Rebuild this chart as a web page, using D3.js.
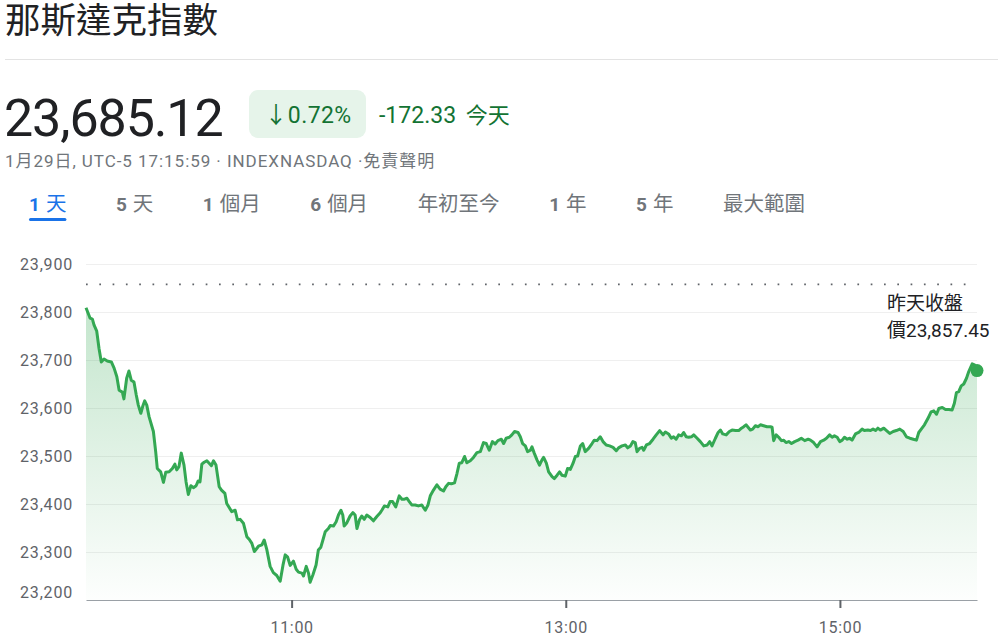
<!DOCTYPE html>
<html>
<head>
<meta charset="utf-8">
<script src="https://cdn.jsdelivr.net/npm/d3@7"></script>
<style>
  body { margin: 0; background: #fff; }
  svg text { font-family: Roboto, "Noto Sans CJK TC", sans-serif; }
</style>
</head>
<body>
<script>
// intraday quotes, minutes after the 09:30 open
var minutes = [0,1.8,2.8,3.5,4.7,5.7,6.7,7.9,9.3,11.1,12.3,13.5,14.5,15.9,16.6,17.8,18.8,19.8,21.0,22.0,
  22.9,24.0,24.8,25.7,26.6,27.6,29.5,30.5,31.2,32.7,33.9,34.9,36.4,37.8,38.9,39.7,40.7,41.7,42.9,43.8,
  44.8,45.9,47.0,48.2,49.1,49.9,50.7,51.7,52.9,53.9,54.9,55.8,56.9,58.3,59.3,60.8,61.6,63.8,65.3,66.3,
  67.5,68.9,70.4,71.5,72.6,73.7,75.5,77.0,78.0,79.1,80.6,82.0,83.5,85.0,86.2,87.2,88.2,89.4,90.8,92.0,
  93.0,94.5,95.2,96.4,97.4,98.1,99.3,100.7,101.7,102.8,103.7,104.7,106.1,106.9,108.3,109.5,110.5,111.6,112.4,113.0,
  114.2,115.6,116.8,117.8,118.6,119.7,120.7,121.8,122.9,124.4,125.8,127.3,128.8,129.5,130.6,132.1,133.1,134.2,135.6,137.1,
  138.3,139.4,140.5,141.5,142.6,144.1,145.5,147.0,148.5,149.7,150.7,152.1,153.6,155.0,156.5,157.5,158.7,159.9,161.3,162.4,
  163.4,164.5,165.7,166.7,168.2,169.6,171.1,172.6,174.0,175.2,176.5,177.9,179.1,180.3,181.8,182.8,183.9,185.3,186.4,187.6,
  189.1,190.1,191.1,192.3,193.3,194.5,195.2,196.2,197.4,198.5,199.6,200.3,201.5,202.5,204.0,205.0,206.2,207.3,208.3,209.8,
  210.8,212.0,213.2,214.2,215.2,216.4,217.4,218.5,220.0,221.5,222.5,223.7,225.1,226.3,227.7,229.2,230.7,232.1,233.1,234.6,
  236.1,237.1,238.3,239.4,240.4,241.2,242.3,243.4,244.1,245.3,246.7,248.2,249.6,251.1,252.6,253.6,255.0,256.2,257.2,258.3,
  259.4,260.6,261.6,262.7,263.8,265.0,266.0,267.5,268.9,270.4,271.9,273.0,274.0,275.5,276.7,277.7,278.7,280.2,281.6,282.8,
  284.3,285.7,286.9,287.9,288.9,289.8,290.8,291.8,293.0,294.2,295.2,296.6,298.1,299.6,300.3,301.0,302.1,303.2,304.4,305.4,
  306.4,307.6,308.8,310.2,311.7,313.1,314.6,316.1,317.1,318.5,320.0,321.5,322.9,324.1,325.5,326.6,327.6,328.8,329.9,331.0,
  332.0,333.2,334.3,335.3,336.8,338.2,339.7,340.7,342.2,343.4,344.5,345.6,346.6,347.7,349.2,350.4,351.8,353.3,354.7,356.2,
  357.7,359.1,360.6,362.1,363.5,364.5,365.6,367.0,368.5,369.9,371.1,372.3,373.3,374.8,376.2,377.7,379.1,380.1,381.0,382.0,
  383.1,384.2,385.4,386.4,387.9,388.9,390.0];

var prices = [23809,23787,23785,23773,23760,23724,23696,23702,23698,23696,23683,23665,23637,23633,23619,23662,23677,23658,23654,23627,
  23606,23589,23603,23615,23606,23582,23551,23509,23474,23467,23445,23466,23467,23474,23483,23471,23478,23506,23481,23446,
  23420,23438,23434,23438,23448,23446,23483,23487,23490,23485,23480,23490,23481,23436,23429,23422,23401,23384,23387,23367,
  23368,23360,23332,23326,23318,23301,23312,23315,23325,23306,23270,23257,23251,23239,23272,23294,23290,23272,23281,23264,
  23258,23256,23250,23270,23256,23237,23252,23273,23304,23310,23325,23342,23349,23355,23354,23363,23377,23387,23377,23354,
  23361,23375,23382,23377,23349,23367,23375,23368,23377,23372,23365,23374,23382,23387,23396,23394,23405,23405,23394,23417,
  23410,23410,23412,23405,23398,23398,23396,23398,23387,23398,23417,23429,23440,23431,23427,23436,23443,23442,23444,23464,
  23485,23486,23499,23486,23490,23497,23507,23509,23528,23526,23512,23530,23525,23532,23535,23526,23537,23539,23544,23551,
  23549,23540,23526,23521,23509,23512,23519,23506,23492,23481,23492,23497,23485,23467,23457,23453,23460,23467,23460,23458,
  23474,23472,23485,23499,23500,23521,23526,23509,23516,23526,23533,23532,23540,23530,23523,23521,23518,23511,23517,23521,
  23523,23517,23521,23530,23528,23509,23516,23518,23512,23523,23526,23535,23544,23553,23544,23550,23546,23537,23540,23535,
  23544,23542,23549,23540,23539,23540,23544,23537,23530,23521,23523,23530,23521,23537,23549,23554,23546,23544,23551,23554,
  23553,23553,23558,23561,23565,23560,23554,23556,23563,23561,23565,23563,23561,23561,23560,23532,23544,23539,23532,23533,
  23528,23530,23526,23530,23533,23537,23532,23535,23533,23528,23519,23530,23533,23537,23544,23539,23542,23539,23530,23533,
  23539,23535,23537,23533,23546,23549,23556,23553,23554,23553,23556,23553,23558,23554,23558,23553,23547,23551,23553,23556,
  23551,23540,23537,23535,23533,23549,23556,23565,23578,23592,23594,23587,23599,23601,23597,23597,23596,23610,23632,23634,
  23646,23650,23662,23676,23692,23690,23678];

var yTicks = [23200, 23300, 23400, 23500, 23600, 23700, 23800, 23900];
var xTicks = [90, 210, 330];
var xTickLabels = ["11:00", "13:00", "15:00"];
var prevClose = 23857.45;
var prevCloseLabel = ["昨天收盤", "價23,857.45"];

var title = "那斯達克指數";
var lastPrice = "23,685.12";
var changePct = "↓0.72%";
var changeAbs = "-172.33";
var changeWhen = "今天";
var subtitle = "1月29日, UTC-5 17:15:59 · INDEXNASDAQ ·免責聲明";
var tabNums = ["1", "5", "1", "6", "", "1", "5", ""];
var tabWords = ["天", "天", "個月", "個月", "年初至今", "年", "年", "最大範圍"];

var width = 998,
    height = 641;

var green = "#34a853",
    darkGreen = "#137333",
    grey = "#5f6368";

var svg = d3.select("body").append("svg")
    .attr("width", width)
    .attr("height", height);

// header
svg.append("text")
    .attr("x", 5).attr("y", 33)
    .style("font-size", "35.5px")
    .attr("fill", "#202124")
    .text(title);

svg.append("line")
    .attr("x1", 5).attr("x2", width)
    .attr("y1", 59.5).attr("y2", 59.5)
    .attr("stroke", "#e3e3e3");

svg.append("text")
    .attr("x", 4).attr("y", 136)
    .style("font-size", "52px")
    .style("letter-spacing", "-1.1px")
    .attr("fill", "#202124")
    .text(lastPrice);

svg.append("rect")
    .attr("x", 249).attr("y", 90)
    .attr("width", 117).attr("height", 48)
    .attr("rx", 9)
    .attr("fill", "#e6f4ea");

svg.append("text")
    .attr("x", 308).attr("y", 123)
    .attr("text-anchor", "middle")
    .style("font-size", "23px")
    .style("letter-spacing", "0.4px")
    .attr("fill", darkGreen)
    .text(changePct);

svg.append("text")
    .attr("x", 379).attr("y", 123)
    .style("font-size", "23px")
    .attr("fill", darkGreen)
    .text(changeAbs + " ")
    .append("tspan")
    .attr("dx", 4)
    .style("font-size", "22px")
    .text(changeWhen);

svg.append("text")
    .attr("x", 5).attr("y", 167)
    .style("font-size", "17px")
    .style("letter-spacing", "0.95px")
    .attr("fill", "#70757a")
    .text(subtitle);

// range tabs
var tabX = 29;
tabWords.forEach(function(w, i) {
  var t = svg.append("text")
      .attr("x", tabX).attr("y", 211)
      .style("font-size", "20.5px")
      .attr("fill", i === 0 ? "#1a73e8" : "#70757a");
  if (tabNums[i]) {
    t.append("tspan").style("font-weight", "bold").style("font-size", "19px").text(tabNums[i]);
    t.append("tspan").attr("dx", 6).text(w);
  } else {
    t.text(w);
  }
  var w0 = t.node().getComputedTextLength() + (tabNums[i] ? 6 : 0);
  if (i === 0) {
    svg.append("rect")
        .attr("x", tabX).attr("y", 218)
        .attr("width", w0).attr("height", 3)
        .attr("rx", 1.5)
        .attr("fill", "#1a73e8");
  }
  tabX += w0 + 49.5;
});

// chart
var x = d3.scaleLinear().domain([0, 390]).range([86, 977]);
var y = d3.scaleLinear().domain([23200, 23900]).range([600, 264]);

var data = minutes.map(function(m, i) { return [m, prices[i]]; });

svg.selectAll(".grid")
    .data(yTicks.slice(1))
    .enter().append("line")
    .attr("class", "grid")
    .attr("x1", 86).attr("x2", 977)
    .attr("y1", function(d) { return Math.round(y(d)) + 0.5; })
    .attr("y2", function(d) { return Math.round(y(d)) + 0.5; })
    .attr("stroke", "#efefef");

var yAxis = svg.append("g")
    .attr("transform", "translate(73,0)")
    .call(d3.axisLeft(y).tickValues(yTicks).tickSize(0).tickPadding(0).tickFormat(d3.format(",")));
yAxis.select(".domain").remove();
yAxis.selectAll("text")
    .style("font-size", "16px")
    .style("letter-spacing", "0.8px")
    .attr("fill", grey)
    .attr("dy", function(d) { return d === 23200 ? "-0.15em" : "0.34em"; });

var defs = svg.append("defs");
var grad = defs.append("linearGradient")
    .attr("id", "fill")
    .attr("gradientUnits", "userSpaceOnUse")
    .attr("x1", 0).attr("x2", 0)
    .attr("y1", 300).attr("y2", 600);
grad.append("stop").attr("offset", 0).attr("stop-color", green).attr("stop-opacity", 0.3);
grad.append("stop").attr("offset", 1).attr("stop-color", green).attr("stop-opacity", 0.01);

var area = d3.area()
    .x(function(d) { return x(d[0]); })
    .y0(600)
    .y1(function(d) { return y(d[1]); });

var line = d3.line()
    .x(function(d) { return x(d[0]); })
    .y(function(d) { return y(d[1]); });

svg.append("path")
    .datum(data)
    .attr("d", area)
    .attr("fill", "url(#fill)");

// previous close
svg.append("line")
    .attr("x1", 86).attr("x2", 977)
    .attr("y1", y(prevClose)).attr("y2", y(prevClose))
    .attr("stroke", "#5f6368")
    .attr("stroke-width", 1.7)
    .attr("stroke-dasharray", "1.7 11.6");

svg.selectAll(".prevlbl")
    .data(prevCloseLabel)
    .enter().append("text")
    .attr("class", "prevlbl")
    .attr("x", 887)
    .attr("y", function(d, i) { return 310 + i * 27; })
    .style("font-size", "19px")
    .attr("fill", "#202124")
    .text(function(d) { return d; });

var xAxis = svg.append("g")
    .attr("transform", "translate(0,600)")
    .call(d3.axisBottom(x).tickValues(xTicks).tickSize(8).tickSizeOuter(0)
      .tickFormat(function(d, i) { return xTickLabels[i]; }));
xAxis.select(".domain").attr("stroke", "#9aa0a6").attr("stroke-width", 1.2);
xAxis.selectAll(".tick line").attr("stroke", grey).attr("stroke-width", 2);
xAxis.selectAll("text")
    .attr("y", 22)
    .style("font-size", "16px")
    .style("letter-spacing", "0.7px")
    .attr("fill", grey);

svg.append("path")
    .datum(data)
    .attr("d", line)
    .attr("fill", "none")
    .attr("stroke", green)
    .attr("stroke-width", 3)
    .attr("stroke-linejoin", "round");

var last = data[data.length - 1];
svg.append("circle")
    .attr("cx", x(last[0]))
    .attr("cy", y(last[1]))
    .attr("r", 6.5)
    .attr("fill", green);
</script>
</body>
</html>
